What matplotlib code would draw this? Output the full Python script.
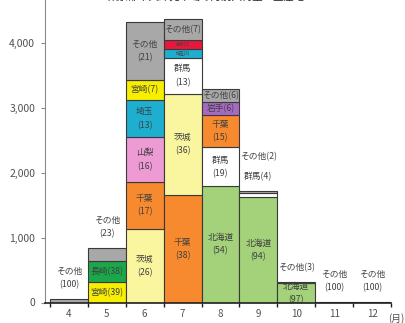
import matplotlib
matplotlib.use('Agg')
import matplotlib.pyplot as plt
from matplotlib.ticker import FuncFormatter, FixedLocator

plt.rcParams['font.family'] = ['Noto Sans CJK JP', 'DejaVu Sans']

# ---------------- data ----------------
months = [4, 5, 6, 7, 8, 9, 10, 11, 12]
month_labels = ['4', '5', '6', '7', '8', '9', '10', '11', '12']

names = [
    ['その他'],
    ['宮崎', '長崎', 'その他'],
    ['茨城', '千葉', '山梨', '埼玉', '宮崎', 'その他'],
    ['千葉', '茨城', '群馬', '埼玉', '栃木', 'その他'],
    ['北海道', '群馬', '千葉', '岩手', 'その他'],
    ['北海道', '群馬', 'その他'],
    ['北海道', 'その他'],
    ['その他'],
    ['その他'],
]
values = [
    [60],
    [315, 325, 195],
    [1130, 730, 685, 575, 305, 900],
    [1655, 1560, 560, 130, 145, 320],
    [1790, 605, 500, 195, 195],
    [1620, 68, 32],
    [305, 10],
    [3],
    [3],
]
shares = [
    [100],
    [39, 38, 23],
    [26, 17, 16, 13, 7, 21],
    [38, 36, 13, 3, 3, 7],
    [54, 19, 15, 6, 6],
    [94, 4, 2],
    [97, 3],
    [100],
    [100],
]
title = '東京都中央卸売市場の月別入荷量と主産地'
y_ticks = [0, 1000, 2000, 3000, 4000]

# ---------------- styling ----------------
colors = {
    'その他': '#a8a8a8', '宮崎': '#f7ee00', '長崎': '#1aa84a', '茨城': '#faf6a0',
    '千葉': '#f7892f', '山梨': '#ee9ad4', '埼玉': '#1eaed0', '群馬': '#ffffff',
    '栃木': '#e8183c', '岩手': '#a56ac4', '北海道': '#a3d27a',
}
label_styles = [
    ['out2'],
    ['in1', 'in1', 'out2'],
    ['in2', 'in2', 'in2', 'in2', 'in1', 'in2'],
    ['in2', 'in2', 'in2', 'tiny', 'tiny', 'in1'],
    ['in2', 'in2', 'in2', 'in1', 'in1'],
    ['in2', 'out1', 'out1'],
    ['in2', 'out1'],
    ['out2'],
    ['out2'],
]

W, H = 406, 323
fig = plt.figure(figsize=(W / 100, H / 100), dpi=100)
ax_left, ax_right, ax_bottom_px = 45, 391, 302.5
ax = fig.add_axes([ax_left / W, (H - ax_bottom_px) / H, (ax_right - ax_left) / W, ax_bottom_px / H])

ymax = 4661
ax.set_ylim(0, ymax)
bin_px = (ax_right - 50) / 9.0
ax.set_xlim(3.5 - 5 / bin_px, 12.5)
px = ymax / ax_bottom_px  # data units per pixel

txt_color = '#404040'
fs = 6.3
ls = 1.6

for m, nlist, vlist, slist, stl in zip(months, names, values, shares, label_styles):
    bottom = 0
    for n, v in zip(nlist, vlist):
        ax.bar(m, v, bottom=bottom, width=1.0, color=colors[n],
               edgecolor='#3a3a3a', linewidth=0.8, zorder=2)
        bottom += v
    top = bottom
    # labels
    bottom = 0
    out_y = top + 14 * px
    for n, v, s, st in zip(nlist, vlist, slist, stl):
        mid = bottom + v / 2
        if st == 'in2':
            ax.text(m, mid, f'{n}\n({s})', ha='center', va='center', fontsize=fs,
                    color=txt_color, linespacing=ls, zorder=3, clip_on=False)
        elif st == 'in1':
            ax.text(m, mid, f'{n}({s})', ha='center', va='center', fontsize=fs,
                    color=txt_color, zorder=3)
        elif st == 'tiny':
            ax.text(m, mid, f'{n}({s})', ha='center', va='center', fontsize=3.2,
                    color=txt_color, zorder=3)
        elif st == 'out1':
            ax.text(m, out_y, f'{n}({s})', ha='center', va='center', fontsize=fs,
                    color=txt_color, zorder=3)
            out_y += 20 * px
        elif st == 'out2':
            ax.text(m, top + 21 * px, f'{n}\n({s})', ha='center', va='center', fontsize=fs,
                    color=txt_color, linespacing=ls, zorder=3)
        bottom += v

# axes styling
for sp in ['top', 'right']:
    ax.spines[sp].set_visible(False)
ax.spines['left'].set_color('#8a8a8a')
ax.spines['left'].set_linewidth(0.8)
ax.spines['bottom'].set_color('#202020')
ax.spines['bottom'].set_linewidth(1.2)
ax.spines['bottom'].set_zorder(4)

ax.set_yticks(y_ticks)
ax.yaxis.set_major_formatter(FuncFormatter(lambda v, p: f'{int(v):,}'))
ax.tick_params(axis='y', direction='out', length=3, width=0.8, color='#8a8a8a',
               labelsize=7.5, labelcolor='#505050', pad=4)

ax.set_xticks(months)
ax.set_xticklabels(month_labels)
ax.xaxis.set_minor_locator(FixedLocator([m + 0.5 for m in [3] + months]))
ax.tick_params(axis='x', which='major', length=0, labelsize=7, labelcolor='#505050', pad=5)
ax.tick_params(axis='x', which='minor', direction='out', length=3, width=1.0, color='#202020')

fig.text(396 / W, 1 - 319 / H, '(月)', ha='center', va='center', fontsize=7, color='#505050')
fig.text(206 / W, 1.0 + 3 / H, title, ha='center', va='center', fontsize=7.5, color='#202020')

fig.savefig('out.png', dpi=100)
